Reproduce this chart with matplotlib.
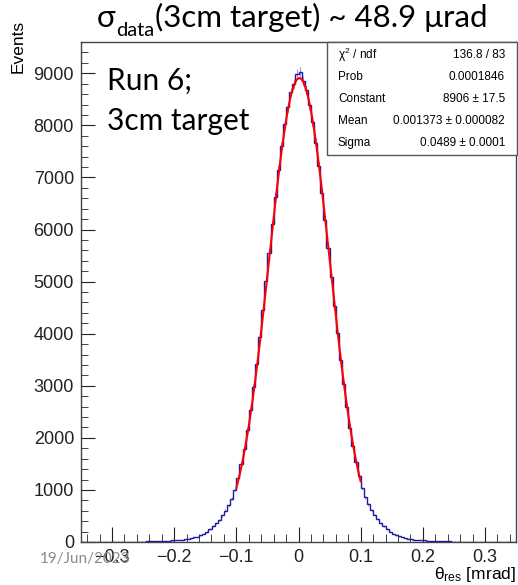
import numpy as np
import matplotlib.pyplot as plt
from matplotlib.patches import Rectangle
from matplotlib.ticker import MultipleLocator

plt.rcParams['font.family'] = ['Liberation Sans', 'DejaVu Sans']
plt.rcParams['mathtext.fontset'] = 'custom'
plt.rcParams['mathtext.rm'] = 'Liberation Sans'
plt.rcParams['mathtext.it'] = 'Liberation Sans:italic'

# theta_res histogram, 140 bins of 0.005 mrad between -0.35 and 0.35
x_lo, x_hi = -0.35, 0.35
counts_neg = [1, 1, 1, 1, 2, 1, 2, 2, 2, 3,
              2, 3, 3, 4, 4, 5, 5, 6, 7, 8,
              9, 10, 11, 13, 15, 17, 20, 23, 27, 31,
              36, 41, 47, 55, 64, 75, 88, 105, 128, 160,
              195, 245, 300, 362, 430, 512, 603, 702, 835, 1002,
              1228, 1492, 1790, 2150, 2528, 2972, 3425, 3940, 4450, 5008,
              5540, 6112, 6630, 7150, 7596, 8020, 8345, 8632, 8790, 8985]
counts_pos = [9030, 8850, 8680, 8390, 8070, 7660, 7215, 6710, 6180, 5640,
              5085, 4540, 4010, 3500, 3030, 2590, 2195, 1840, 1530, 1262,
              1030, 860, 725, 618, 522, 440, 368, 305, 250, 200,
              162, 130, 106, 88, 74, 63, 54, 46, 40, 35,
              30, 26, 22, 19, 17, 15, 13, 11, 10, 9,
              8, 7, 6, 5, 5, 4, 4, 3, 3, 3,
              2, 2, 2, 2, 1, 1, 1, 1, 1, 1]
counts = np.array(counts_neg + counts_pos, dtype=float)

# gaussian fit result
fit_const = 8906
fit_mean = 0.001373
fit_sigma = 0.0489
fit_lo, fit_hi = -0.1, 0.1

stat_names = ['χ$^{2}$ / ndf', 'Prob', 'Constant', 'Mean', 'Sigma']
stat_values = ['136.8 / 83', '0.0001846', '8906 ± 17.5',
               '0.001373 ± 0.000082', '0.0489 ± 0.0001']

W, H = 518, 585
fig = plt.figure(figsize=(W / 100, H / 100), dpi=100)
ax = fig.add_axes([81 / W, 1 - 542 / H, 435 / W, 500 / H])

edges = np.linspace(x_lo, x_hi, len(counts) + 1)
centers = 0.5 * (edges[:-1] + edges[1:])
ax.errorbar(centers, counts, yerr=np.sqrt(counts), fmt='none',
            ecolor='#9a9ae8', elinewidth=0.8, zorder=2)
ax.stairs(counts, edges, color='#1c1ca0', lw=1.0, zorder=3)

xf = np.linspace(fit_lo, fit_hi, 400)
yf = fit_const * np.exp(-0.5 * ((xf - fit_mean) / fit_sigma) ** 2)
ax.plot(xf, yf, color='#ff0000', lw=1.5, zorder=4)

ax.set_xlim(x_lo, x_hi)
ax.set_ylim(0, 9600)
ax.xaxis.set_major_locator(MultipleLocator(0.1))
ax.xaxis.set_minor_locator(MultipleLocator(0.02))
ax.yaxis.set_major_locator(MultipleLocator(1000))
ax.yaxis.set_minor_locator(MultipleLocator(200))
ax.tick_params(which='both', direction='in', top=False, right=False,
               colors='#222222', labelsize=13)
ax.tick_params(axis='x', which='major', length=11, pad=5)
ax.tick_params(axis='x', which='minor', length=6)
ax.tick_params(axis='y', which='major', length=10, pad=5)
ax.tick_params(axis='y', which='minor', length=5)
ax.xaxis.set_major_formatter(lambda v, p: '0' if abs(v) < 1e-9 else f'{v:.1f}'.replace('-', '\u2212'))
for s in ax.spines.values():
    s.set_color('#444444')
    s.set_linewidth(1.0)

fig.text(18 / W, 1 - 73 / H, 'Events', rotation=90, ha='center', va='bottom',
         fontsize=12.5)
fig.text(516 / W, 1 / H, 'θ$_{\\mathrm{res}}$ [mrad]', ha='right',
         va='bottom', fontsize=12.5)

# stats box
box = Rectangle((327 / W, 1 - 155 / H), 190 / W, 113 / H, transform=fig.transFigure,
                facecolor='white', edgecolor='#555555', lw=1.0, zorder=5)
fig.add_artist(box)
for i, (name, val) in enumerate(zip(stat_names, stat_values)):
    yy = 1 - (55 + 22 * i) / H
    fig.text(338 / W, yy, name, ha='left', va='center', fontsize=8.5, zorder=6)
    fig.text(505 / W, yy, val, ha='right', va='center', fontsize=8.5, zorder=6)

# slide overlays
calib = ['Lato', 'DejaVu Sans']
t1 = fig.text(97 / W, 1 - 27 / H, 'σ', fontsize=22.5, family=calib, va='baseline')
t2 = ax.annotate('data', xy=(1, 0), xycoords=t1, xytext=(0.5, -5),
                 textcoords='offset points', fontsize=14.5, family=calib,
                 va='bottom', annotation_clip=False)
ax.annotate('(3cm target) ~ 48.9 μrad', xy=(1, 0), xycoords=(t2, t1),
            xytext=(0.5, 0), textcoords='offset points', fontsize=22.5,
            family=calib, va='bottom', annotation_clip=False)

fig.text(107 / W, 1 - 90 / H, 'Run 6;', fontsize=21.5, family=calib, va='baseline')
fig.text(107 / W, 1 - 130 / H, '3cm target', fontsize=21.5, family=calib, va='baseline')
fig.text(40 / W, 1 - 559 / H, '19/Jun/2023', fontsize=11, family=calib,
         color='#8a8a8a', va='center', ha='left')

fig.savefig('out.png', dpi=100)
